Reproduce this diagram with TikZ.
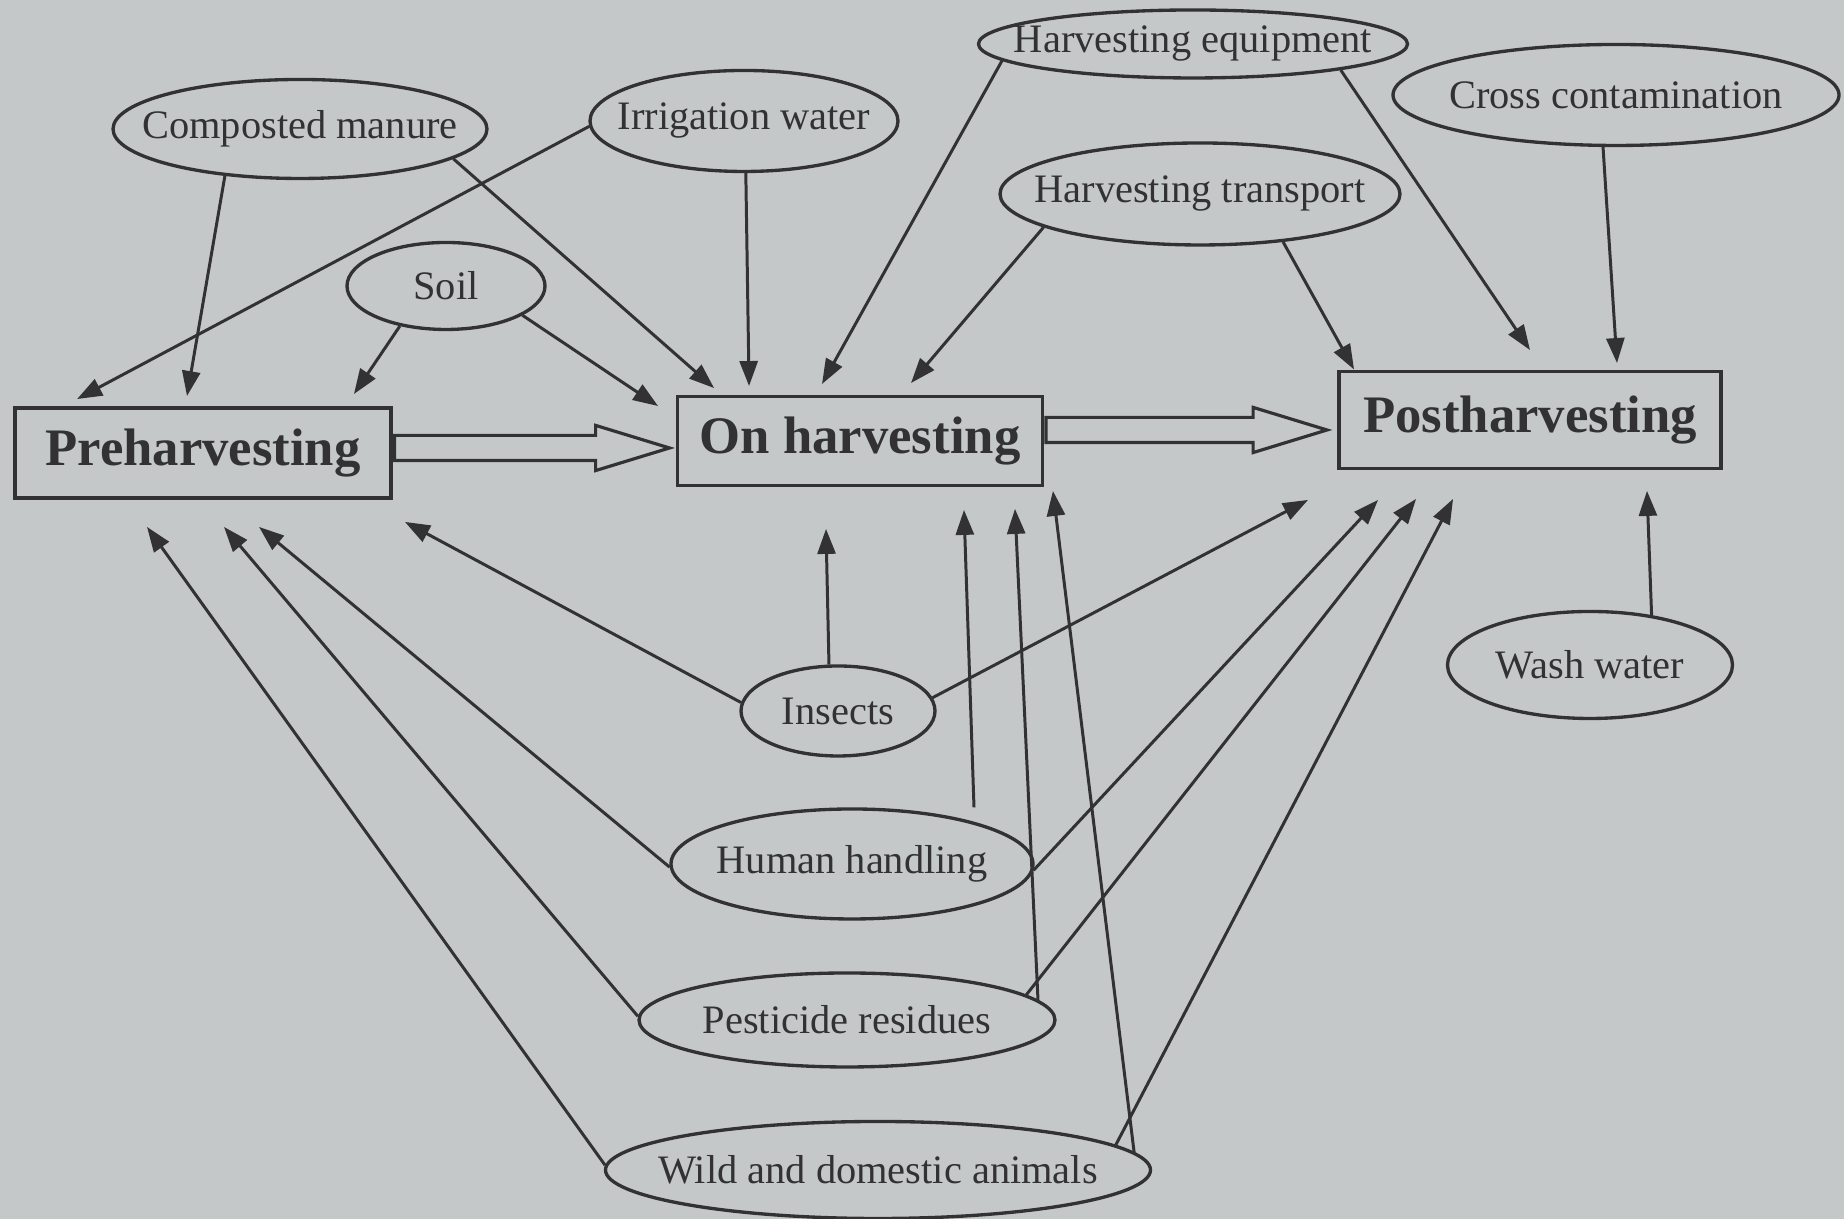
\documentclass[tikz,border=0pt]{standalone}
\usepackage{fontspec}
\setmainfont{Liberation Serif}
\usetikzlibrary{arrows.meta, shapes.geometric, shapes.arrows}
\definecolor{paper}{RGB}{197,200,201}
\definecolor{ink}{RGB}{50,50,52}

\begin{document}
\begin{tikzpicture}[
            box/.style={draw=ink, line width=1.1pt, minimum height=0.9cm, inner sep=0pt,
                    text=ink, font=\fontsize{15}{18}\selectfont\bfseries},
            oval/.style={ellipse, draw=ink, line width=0.95pt, inner xsep=-0.8cm, inner ysep=0pt,
                    text=ink, font=\fontsize{11.5}{13}\selectfont},
            arr/.style={draw=ink, line width=0.85pt, -{Triangle[length=0.25cm, width=0.18cm]}},
            fat/.style={single arrow, draw=ink, line width=0.9pt, fill=paper, inner xsep=0pt,
                    inner ysep=0.11cm, single arrow head extend=0.1cm, single arrow tip angle=34}]

        \fill[paper] (0,0) rectangle (18.44,12.19);
        \useasboundingbox (0,0) rectangle (18.44,12.19);

        \node[box, minimum width=3.76cm] (pre) at (2.03,7.66) {Preharvesting};
        \node[box, minimum width=3.65cm, minimum height=0.89cm] (on) at (8.6,7.78) {On harvesting};
        \node[box, minimum width=3.82cm, minimum height=0.97cm] (post) at (15.3,7.99) {Postharvesting};

        \node[oval, minimum width=3.74cm, minimum height=0.99cm] (cm) at (3.0,10.9) {Composted manure};
        \node[oval, minimum width=3.08cm, minimum height=1.01cm] (iw) at (7.44,10.98) {Irrigation water};
        \node[oval, minimum width=1.98cm, minimum height=0.87cm] (soil) at (4.46,9.33) {Soil};
        \node[oval, minimum width=4.29cm, minimum height=0.68cm] (he) at (11.93,11.75) {Harvesting equipment};
        \node[oval, minimum width=4.0cm, minimum height=1.02cm] (ht) at (12.0,10.25) {Harvesting transport};
        \node[oval, minimum width=4.46cm, minimum height=1.01cm] (cc) at (16.16,11.24) {Cross contamination};
        \node[oval, minimum width=2.85cm, minimum height=1.07cm] (ww) at (15.9,5.54) {Wash water};
        \node[oval, minimum width=1.94cm, minimum height=0.9cm] (ins) at (8.38,5.08) {Insects};
        \node[oval, minimum width=3.62cm, minimum height=1.1cm] (hh) at (8.52,3.55) {Human handling};
        \node[oval, minimum width=4.16cm, minimum height=0.94cm] (pr) at (8.47,1.99) {Pesticide residues};
        \node[oval, minimum width=5.45cm, minimum height=0.97cm] (wa) at (8.78,0.49) {Wild and domestic animals};

        \node[fat, minimum height=2.75cm, anchor=tail] (pa) at ([yshift=0.05cm]pre.east) {};
        \node[fat, minimum height=2.81cm, anchor=tail] (oa) at ([yshift=0.11cm]on.east) {};

        \draw[arr] (cm.212) -- ([shift={(-0.16,0.1)}]pre.north);
        \draw[arr] (cm.349) -- ([shift={(0.385,0.065)}]on.north west);
        \draw[arr] (iw.182) -- ([shift={(0.64,0.07)}]pre.north west);
        \draw[arr] (iw.272) -- ([shift={(0.735,0.085)}]on.north west);
        \draw[arr] (soil.221) -- ([shift={(-0.39,0.12)}]pre.north east);
        \draw[arr] (soil.339) -- ([shift={(-0.175,-0.115)}]on.north west);
        \draw[arr] (he.185) -- ([shift={(-0.38,0.105)}]on.north);
        \draw[arr] (he.350) -- ([shift={(0,0.195)}]post.north);
        \draw[arr] (ht.192) -- ([shift={(0.51,0.115)}]on.north);
        \draw[arr] (ht.330) -- ([shift={(0.17,0)}]post.north west);
        \draw[arr] (cc.256) -- ([shift={(0.87,0.065)}]post.north);
        \draw[arr] (ww.39) -- ([shift={(1.17,-0.205)}]post.south);

        \draw[arr] (ins.175) -- ([shift={(0.12,-0.22)}]pre.south east);
        \draw[arr] (ins.101) -- ([shift={(-0.34,-0.415)}]on.south);
        \draw[arr] (ins.8) -- ([shift={(-0.29,-0.295)}]post.south west);
        \draw[arr] (hh.181) -- ([shift={(0.56,-0.27)}]pre.south);
        \draw[arr] ([xshift=1.22cm]hh.north) -- ([shift={(1.04,-0.225)}]on.south);
        \draw[arr] (hh.358) -- ([shift={(0.41,-0.295)}]post.south west);
        \draw[arr] (pr.179) -- ([shift={(0.21,-0.27)}]pre.south);
        \draw[arr] (pr.6) -- ([shift={(1.55,-0.215)}]on.south);
        \draw[arr] (pr.8) -- ([shift={(0.79,-0.285)}]post.south west);
        \draw[arr] (wa.179) -- ([shift={(-0.56,-0.27)}]pre.south);
        \draw[arr] (wa.4) -- ([shift={(0.085,-0.035)}]on.south east);
        \draw[arr] (wa.6) -- ([shift={(1.16,-0.285)}]post.south west);
    \end{tikzpicture}
\end{document}
